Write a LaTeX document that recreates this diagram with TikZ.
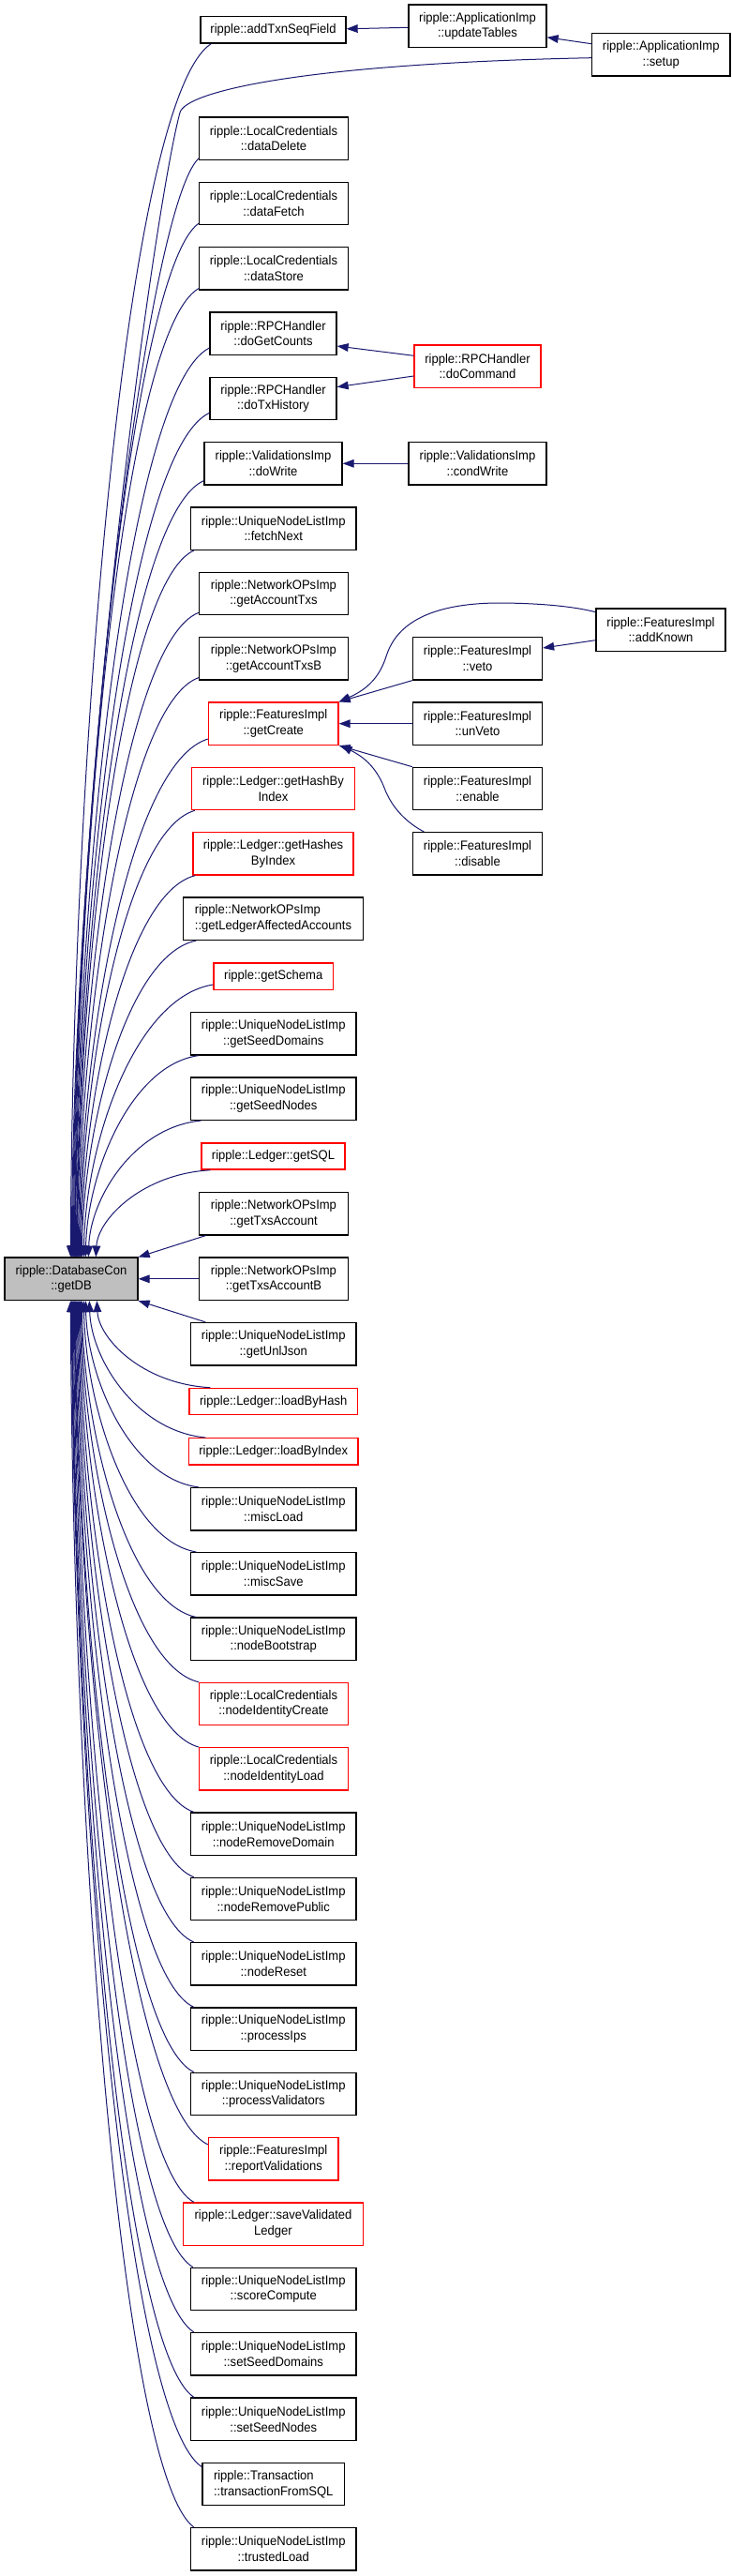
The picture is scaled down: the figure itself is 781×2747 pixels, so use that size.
\documentclass[tikz,border=0pt]{standalone}
\usepackage{fontspec}
\setmainfont{Liberation Sans}[FakeStretch=0.94]
\usetikzlibrary{arrows.meta,calc}
\definecolor{edgec}{HTML}{191970}
\definecolor{redc}{HTML}{FF0000}
\definecolor{grayfill}{HTML}{BFBFBF}
\tikzset{
  bx/.style={draw=black,line width=1pt,fill=white,inner sep=0pt,align=center,minimum height=34pt,font=\fontsize{10.4pt}{12.5pt}\selectfont},
  bw/.style={minimum width=#1*0.75pt},
  one/.style={minimum height=21.2pt},
  redb/.style={draw=redc},
  arr/.style={draw=edgec,line width=0.75pt,{Triangle[length=9pt,width=6.5pt]}-},
}
\newcommand\upcall[5]{\draw[arr] ($(getDB.north west)+(#1,0)$) .. controls +(2,-#2) and +(#3,#4) .. (#5);}
\newcommand\downcall[5]{\draw[arr] ($(getDB.south west)+(#1,0)$) .. controls +(2,#2) and +(#3,-#4) .. (#5);}
\begin{document}
\begin{tikzpicture}[x=0.75pt,y=-0.75pt]
\fill[white] (0,0) rectangle (781,2747);
\useasboundingbox (0,0) rectangle (781,2747);
% nodes
\node[bx,bw=155,one] (addTxn) at (291.5,31.8) {ripple::addTxnSeqField};
\node[bx,bw=147] (updTables) at (509.5,27.8) {ripple::ApplicationImp\\::updateTables};
\node[bx,bw=147.5] (setup) at (705.25,58.3) {ripple::ApplicationImp\\::setup};
\node[bx,bw=159] (dataDelete) at (292,147.7) {ripple::LocalCredentials\\::dataDelete};
\node[bx,bw=159] (dataFetch) at (292,217) {ripple::LocalCredentials\\::dataFetch};
\node[bx,bw=159] (dataStore) at (292,286.3) {ripple::LocalCredentials\\::dataStore};
\node[bx,bw=135] (doGetCounts) at (291.5,355.7) {ripple::RPCHandler\\::doGetCounts};
\node[bx,bw=135,redb] (doCommand) at (509.5,390.5) {ripple::RPCHandler\\::doCommand};
\node[bx,bw=135] (doTxHistory) at (291.5,425) {ripple::RPCHandler\\::doTxHistory};
\node[bx,bw=147] (doWrite) at (291.5,494.3) {ripple::ValidationsImp\\::doWrite};
\node[bx,bw=147] (condWrite) at (509.5,494.3) {ripple::ValidationsImp\\::condWrite};
\node[bx,bw=176.5] (fetchNext) at (291.75,563.7) {ripple::UniqueNodeListImp\\::fetchNext};
\node[bx,bw=159] (getAccountTxs) at (292,633) {ripple::NetworkOPsImp\\::getAccountTxs};
\node[bx,bw=138] (addKnown) at (705,671.7) {ripple::FeaturesImpl\\::addKnown};
\node[bx,bw=159] (getAccountTxsB) at (292,702.3) {ripple::NetworkOPsImp\\::getAccountTxsB};
\node[bx,bw=138] (veto) at (509.5,702.3) {ripple::FeaturesImpl\\::veto};
\node[bx,bw=138.5,redb] (getCreate) at (291.75,771.7) {ripple::FeaturesImpl\\::getCreate};
\node[bx,bw=138] (unVeto) at (509.5,771.7) {ripple::FeaturesImpl\\::unVeto};
\node[bx,bw=174,redb] (getHashByIndex) at (291.5,841) {ripple::Ledger::getHashBy\\Index};
\node[bx,bw=138] (enable) at (509.5,841) {ripple::FeaturesImpl\\::enable};
\node[bx,bw=171,redb] (getHashesByIndex) at (291.5,910.3) {ripple::Ledger::getHashes\\ByIndex};
\node[bx,bw=138] (disable) at (509.5,910.3) {ripple::FeaturesImpl\\::disable};
\node[bx,bw=192,align=left] (getLedgerAA) at (291.5,979.7) {ripple::NetworkOPsImp\\::getLedgerAffectedAccounts};
\node[bx,bw=127.5,one,redb] (getSchema) at (291.75,1041.2) {ripple::getSchema};
\node[bx,bw=176.5] (getSeedDomains) at (291.75,1102.3) {ripple::UniqueNodeListImp\\::getSeedDomains};
\node[bx,bw=176.5] (getSeedNodes) at (291.75,1171.7) {ripple::UniqueNodeListImp\\::getSeedNodes};
\node[bx,bw=153,one,redb] (getSQL) at (291.5,1233) {ripple::Ledger::getSQL};
\node[bx,bw=159] (getTxsAccount) at (292,1294.3) {ripple::NetworkOPsImp\\::getTxsAccount};
\node[bx,bw=142,fill=grayfill] (getDB) at (76,1363.8) {ripple::DatabaseCon\\::getDB};
\node[bx,bw=159] (getTxsAccountB) at (292,1363.8) {ripple::NetworkOPsImp\\::getTxsAccountB};
\node[bx,bw=176.5] (getUnlJson) at (291.75,1433.2) {ripple::UniqueNodeListImp\\::getUnlJson};
\node[bx,bw=179.5,one,redb] (loadByHash) at (291.75,1494.5) {ripple::Ledger::loadByHash};
\node[bx,bw=180.5,one,redb] (loadByIndex) at (291.75,1547.8) {ripple::Ledger::loadByIndex};
\node[bx,bw=176.5] (miscLoad) at (291.75,1609.2) {ripple::UniqueNodeListImp\\::miscLoad};
\node[bx,bw=176.5] (miscSave) at (291.75,1678.3) {ripple::UniqueNodeListImp\\::miscSave};
\node[bx,bw=176.5] (nodeBootstrap) at (291.75,1747.8) {ripple::UniqueNodeListImp\\::nodeBootstrap};
\node[bx,bw=159,redb] (nodeIdentityCreate) at (292,1817) {ripple::LocalCredentials\\::nodeIdentityCreate};
\node[bx,bw=159,redb] (nodeIdentityLoad) at (292,1886.3) {ripple::LocalCredentials\\::nodeIdentityLoad};
\node[bx,bw=176.5] (nodeRemoveDomain) at (291.75,1955.7) {ripple::UniqueNodeListImp\\::nodeRemoveDomain};
\node[bx,bw=176.5] (nodeRemovePublic) at (291.75,2025) {ripple::UniqueNodeListImp\\::nodeRemovePublic};
\node[bx,bw=176.5] (nodeReset) at (291.75,2094.3) {ripple::UniqueNodeListImp\\::nodeReset};
\node[bx,bw=176.5] (processIps) at (291.75,2163.7) {ripple::UniqueNodeListImp\\::processIps};
\node[bx,bw=176.5] (processValidators) at (291.75,2233) {ripple::UniqueNodeListImp\\::processValidators};
\node[bx,bw=138.5,redb] (reportValidations) at (291.75,2302.3) {ripple::FeaturesImpl\\::reportValidations};
\node[bx,bw=192,redb] (saveValidatedLedger) at (291.5,2371.7) {ripple::Ledger::saveValidated\\Ledger};
\node[bx,bw=176.5] (scoreCompute) at (291.75,2441) {ripple::UniqueNodeListImp\\::scoreCompute};
\node[bx,bw=176.5] (setSeedDomains) at (291.75,2510.3) {ripple::UniqueNodeListImp\\::setSeedDomains};
\node[bx,bw=176.5] (setSeedNodes) at (291.75,2579.7) {ripple::UniqueNodeListImp\\::setSeedNodes};
\node[bx,bw=151.5,align=left] (transactionFromSQL) at (291.75,2649) {ripple::Transaction\\::transactionFromSQL};
\node[bx,bw=176.5] (trustedLoad) at (291.75,2718.3) {ripple::UniqueNodeListImp\\::trustedLoad};
% right side connectors
\draw[arr] ($(addTxn.east)+(0,-1)$) -- ($(updTables.west)+(0,1.5)$);
\draw[arr] ($(updTables.east)+(0,12)$) -- ($(setup.west)+(0,-11.6)$);
\draw[arr] ($(doGetCounts.south east)+(0,-10)$) -- ($(doCommand.west)+(0,-11.2)$);
\draw[arr] ($(doTxHistory.north east)+(0,11)$) -- ($(doCommand.west)+(0,10.5)$);
\draw[arr] (doWrite.east) -- (condWrite.west);
\draw[arr] ($(veto.east)+(0,-11.3)$) -- ($(addKnown.west)+(0,11)$);
\draw[arr] (getCreate.north east) .. controls (392,735) and (405,722) .. (412,700) .. controls (419,678) and (440,644) .. (530,643) .. controls (570,643) and (610,646) .. ($(addKnown.west)+(0,-19)$);
\draw[arr] (getCreate.north east) -- (veto.south west);
\draw[arr] (getCreate.east) -- (unVeto.west);
\draw[arr] (getCreate.south east) -- (enable.north west);
\draw[arr] ($(getCreate.south east)+(2,0)$) .. controls (390,808) and (402,820) .. (410,840) .. controls (418,862) and (435,878) .. ($(disable.north west)+(12.5,0)$);
% callers above getDB
\upcall{71}{544}{-90}{58}{$(addTxn.south west)+(12,0)$}
\draw[arr] ($(getDB.north west)+(72,0)$) .. controls +(2,-500) and (165,220) .. (192,120) .. controls (198,98) and (320,68) .. ($(setup.west)+(0,3.4)$);
\upcall{73}{493}{-55}{53}{$(dataDelete.south west)+(0,-2)$}
\upcall{74}{463}{-70}{50}{$(dataFetch.south west)+(0,-2)$}
\upcall{75}{434}{-80}{47}{$(dataStore.south west)+(0,-2)$}
\upcall{75.5}{408}{-86}{44}{$(doGetCounts.south west)+(0,-8)$}
\upcall{76}{378}{-86}{41}{$(doTxHistory.south west)+(0,-8)$}
\upcall{77}{348}{-82}{37}{$(doWrite.south west)+(0,-5)$}
\upcall{77.5}{317}{-75}{34}{$(fetchNext.south west)+(4,0)$}
\upcall{78}{289}{-78}{31}{$(getAccountTxs.south west)+(0,-3)$}
\upcall{79}{260}{-77}{28}{$(getAccountTxsB.south west)+(0,-3)$}
\upcall{80}{233}{-83}{25}{$(getCreate.south west)+(0,-7)$}
\upcall{81}{200}{-74}{21}{$(getHashByIndex.south west)+(4,0)$}
\upcall{82}{171}{-73}{18}{$(getHashesByIndex.south west)+(3,0)$}
\upcall{83}{142}{-73}{15}{$(getLedgerAA.south west)+(14.5,0)$}
\upcall{85}{123}{-83}{13}{$(getSchema.south west)+(0,-6)$}
\upcall{87}{91}{-72}{10}{$(getSeedDomains.south west)+(9,0)$}
\upcall{90}{62}{-72}{7}{$(getSeedNodes.south west)+(11.5,0)$}
\upcall{98}{40}{-73}{4}{$(getSQL.south west)+(10,0)$}
\draw[arr] (getDB.north east) -- ($(getTxsAccount.south west)+(7.5,0)$);
\draw[arr] (getDB.east) -- (getTxsAccountB.west);
% callers below getDB
\draw[arr] (getDB.south east) -- ($(getUnlJson.north west)+(16.5,0)$);
\downcall{99}{40}{-73}{4}{$(loadByHash.north west)+(23,0)$}
\downcall{91}{62}{-74}{7}{$(loadByIndex.north west)+(18.5,0)$}
\downcall{87}{84}{-72}{9}{$(miscLoad.north west)+(9,0)$}
\downcall{85}{113}{-72}{12}{$(miscSave.north west)+(6.5,0)$}
\downcall{83}{142}{-73}{15}{$(nodeBootstrap.north west)+(6.5,0)$}
\downcall{82}{171}{-75}{18}{nodeIdentityCreate.north west}
\downcall{81}{200}{-76}{21}{nodeIdentityLoad.north west}
\downcall{80}{229}{-74}{25}{$(nodeRemoveDomain.north west)+(4,0)$}
\downcall{79}{259}{-74}{28}{$(nodeRemovePublic.north west)+(4,0)$}
\downcall{78}{288}{-75}{31}{$(nodeReset.north west)+(4,0)$}
\downcall{77}{317}{-75}{34}{$(processIps.north west)+(4,0)$}
\downcall{76}{346}{-76}{37}{$(processValidators.north west)+(4,0)$}
\downcall{75.5}{378}{-85}{41}{$(reportValidations.north west)+(0,8)$}
\downcall{75}{404}{-77}{43}{$(saveValidatedLedger.north west)+(12,0)$}
\downcall{74}{433}{-77}{46}{$(scoreCompute.north west)+(3,0)$}
\downcall{73}{462}{-78}{50}{$(setSeedDomains.north west)+(4,0)$}
\downcall{72.5}{491}{-78}{53}{$(setSeedNodes.north west)+(4,0)$}
\downcall{72}{523}{-83}{56}{$(transactionFromSQL.north west)+(0,5)$}
\downcall{71}{550}{-79}{59}{$(trustedLoad.north west)+(4,0)$}
\end{tikzpicture}
\end{document}
